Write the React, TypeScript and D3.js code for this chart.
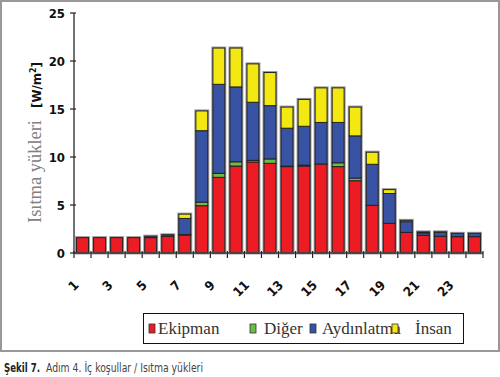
import React from "react";
import * as d3 from "d3";

const hours = d3.range(1, 25).map(String);
const ekipman = [1.6, 1.6, 1.6, 1.6, 1.6, 1.75, 1.87, 4.93, 7.88, 9.06, 9.48, 9.34, 9.0, 9.06, 9.27, 9.0, 7.53, 4.97, 3.09, 2.15, 1.84, 1.74, 1.7, 1.7];
const diger = [0, 0, 0, 0, 0, 0, 0.05, 0.37, 0.42, 0.44, 0.17, 0.46, 0.05, 0.09, 0, 0.4, 0.27, 0, 0, 0, 0, 0, 0, 0];
const aydinlatma = [0, 0, 0, 0, 0.15, 0.15, 1.68, 7.44, 9.27, 7.8, 6.05, 5.55, 3.95, 4.05, 4.33, 4.2, 4.4, 4.27, 3.11, 1.11, 0.26, 0.41, 0.35, 0.35];
const insan = [0, 0, 0, 0, 0, 0, 0.45, 2.06, 3.78, 4.05, 4.0, 3.45, 2.2, 2.8, 3.6, 3.6, 3.0, 1.26, 0.4, 0.14, 0.1, 0.05, 0, 0];
const seriesNames = ["Ekipman", "Diğer", "Aydınlatma", "İnsan"];
const seriesColors = ["#ED1C24", "#6ABD45", "#3953A4", "#F4E812"];
const yTicks = [0, 5, 10, 15, 20, 25];
const xLabels = ["1", "3", "5", "7", "9", "11", "13", "15", "17", "19", "21", "23"];

export default function App() {
  const W = 500, H = 377;
  const x0 = 74, x1 = 483, yTop = 13, yBot = 253;
  const x = d3.scaleBand().domain(hours).range([x0, x1]).paddingInner(0.3).paddingOuter(0.15);
  const y = d3.scaleLinear().domain([0, 25]).range([yBot, yTop]);
  const rows = hours.map((h, i) => ({ h, Ekipman: ekipman[i], "Diğer": diger[i], Aydınlatma: aydinlatma[i], "İnsan": insan[i] }));
  const stack = d3.stack<any>().keys(seriesNames)(rows);
  const step = (x1 - x0) / hours.length;
  const tickXs = d3.range(0, hours.length + 1).map((i) => x0 + i * step);
  const condensed = "'DejaVu Sans Condensed', 'DejaVu Sans', sans-serif";
  const serif = "'Liberation Serif', 'DejaVu Serif', serif";
  const legendItems = [
    { name: "Ekipman", sx: 149, tx: 158 },
    { name: "Diğer", sx: 250, tx: 264 },
    { name: "Aydınlatma", sx: 310, tx: 322 },
    { name: "İnsan", sx: 392, tx: 415 },
  ];
  return (
    <svg width={W} height={H} style={{ position: "absolute", left: 0, top: 0, background: "#fff" }}>
      <rect x={1} y={1} width={W - 2} height={350} fill="#fff" stroke="#999" strokeWidth={2} />
      {rows.map((r, i) => {
        const tot = ekipman[i] + diger[i] + aydinlatma[i] + insan[i];
        return (
          <rect key={"h" + i} x={x(r.h)!} y={y(tot)} width={x.bandwidth()} height={y(0) - y(tot)} fill="none" stroke="#999" strokeWidth={3} />
        );
      })}
      {stack.map((s, si) =>
        s.map((d, i) => {
          const hgt = y(d[0]) - y(d[1]);
          if (hgt <= 0) return null;
          return (
            <rect key={si + "-" + i} x={x(hours[i])!} y={y(d[1])} width={x.bandwidth()} height={hgt} fill={seriesColors[si]} stroke="#222" strokeWidth={1} />
          );
        })
      )}
      <line x1={x0} x2={x0} y1={yTop} y2={yBot} stroke="#444" strokeWidth={1.5} />
      {yTicks.map((t) => (
        <g key={t}>
          <line x1={x0 - 4} x2={x0 + 2} y1={y(t)} y2={y(t)} stroke="#222" strokeWidth={1.2} />
          <text x={x0 - 9} y={y(t) + 5} textAnchor="end" fontFamily={condensed} fontWeight="bold" fontSize={13} fill="#111">{t}</text>
        </g>
      ))}
      <line x1={x0} x2={x1} y1={yBot} y2={yBot} stroke="#444" strokeWidth={1.5} />
      {tickXs.map((tx, i) => (
        <line key={i} x1={tx} x2={tx} y1={yBot - 2} y2={yBot + 5} stroke="#222" strokeWidth={1.2} />
      ))}
      {xLabels.map((l) => {
        const cx = x(l)! + x.bandwidth() / 2 - 3;
        const cy = yBot + 33;
        return (
          <text key={l} x={cx} y={cy} transform={`rotate(-45, ${cx}, ${cy})`} textAnchor="end" fontFamily={condensed} fontWeight="bold" fontSize={13} fill="#111">{l}</text>
        );
      })}
      <g transform="translate(41, 223) rotate(-90)">
        <text x={0} y={0} fontFamily={serif} fontSize={19} fill="#808080" textLength={103} lengthAdjust="spacingAndGlyphs">Isıtma yükleri</text>
        <text x={115} y={0} fontFamily={condensed} fontWeight="bold" fontSize={12} fill="#111" textLength={46} lengthAdjust="spacingAndGlyphs">[W/m<tspan dy={-5} fontSize={8}>2</tspan><tspan dy={5}>]</tspan></text>
      </g>
      <rect x={143.5} y={313.5} width={320} height={30} fill="#fff" stroke="#111" strokeWidth={1} />
      {legendItems.map((it, i) => (
        <g key={it.name}>
          <text x={it.tx} y={334} fontFamily={serif} fontSize={17} fill="#333">{it.name}</text>
          <rect x={it.sx} y={324} width={6} height={9} fill={seriesColors[i]} stroke="#333" strokeWidth={0.8} />
        </g>
      ))}
      <text x={4} y={372} fontFamily={condensed} fontWeight="bold" fontSize={12} fill="#222" textLength={36} lengthAdjust="spacingAndGlyphs">Şekil 7.</text>
      <text x={46} y={372} fontFamily={condensed} fontSize={12} fill="#444" textLength={157} lengthAdjust="spacingAndGlyphs">Adım 4. İç koşullar / Isıtma yükleri</text>
    </svg>
  );
}
